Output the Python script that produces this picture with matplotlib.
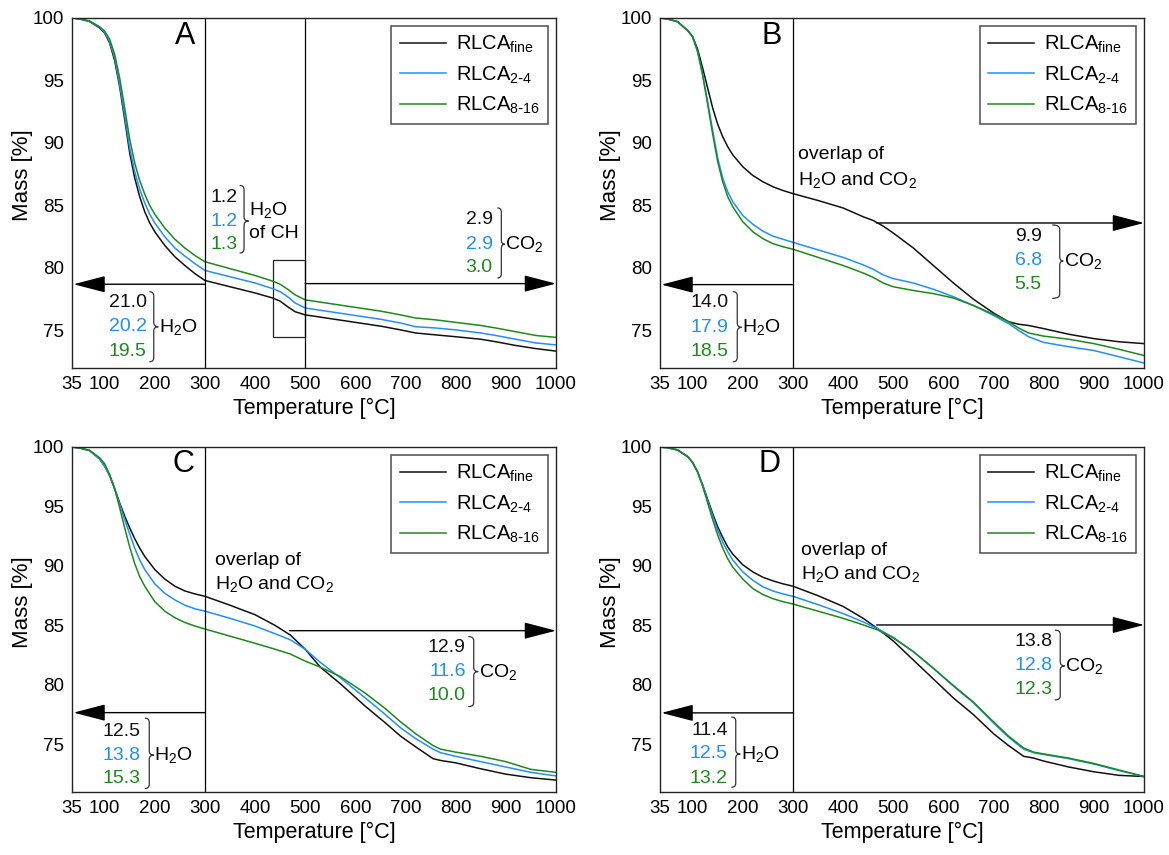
"""TGA mass-loss curves of RLCA fractions (panels A-D)."""

import matplotlib

matplotlib.use("Agg")
import matplotlib.pyplot as plt
from matplotlib.patches import FancyArrowPatch, PathPatch, Rectangle
from matplotlib.path import Path

plt.rcParams["font.family"] = ["Liberation Sans", "DejaVu Sans"]
plt.rcParams["mathtext.default"] = "regular"

# --- data ---------------------------------------------------------------
temp_a = [35, 50, 70, 90, 100, 110, 120, 130, 140, 150, 160, 170, 180, 190, 200,
          220, 240, 260, 280, 300, 350, 400, 435, 450, 465, 480, 500, 550, 600,
          650, 690, 720, 760, 800, 850, 880, 920, 960, 1000]
fine_a = [100, 99.92, 99.72, 99.2, 98.8, 98.0, 96.6, 94.5, 91.9, 89.2, 87.2, 85.7,
          84.5, 83.6, 82.9, 81.8, 80.9, 80.2, 79.55, 79.0, 78.5, 78.0, 77.6, 77.35,
          76.9, 76.5, 76.25, 75.95, 75.65, 75.35, 75.05, 74.8, 74.65, 74.5, 74.3,
          74.1, 73.8, 73.55, 73.35]
c24_a = [100, 99.92, 99.72, 99.25, 98.85, 98.1, 96.8, 94.7, 92.2, 89.6, 87.7, 86.3,
         85.2, 84.3, 83.6, 82.5, 81.6, 80.95, 80.35, 79.8, 79.3, 78.8, 78.35, 78.1,
         77.7, 77.2, 76.8, 76.5, 76.2, 75.9, 75.6, 75.3, 75.2, 75.05, 74.8, 74.6,
         74.3, 74.0, 73.85]
c816_a = [100, 99.94, 99.76, 99.3, 98.95, 98.3, 97.1, 95.2, 92.8, 90.3, 88.4, 87.0,
          85.9, 85.0, 84.3, 83.2, 82.3, 81.6, 81.0, 80.5, 79.95, 79.4, 78.95, 78.7,
          78.3, 77.85, 77.45, 77.15, 76.85, 76.55, 76.25, 76.0, 75.85, 75.65, 75.4,
          75.2, 74.9, 74.6, 74.45]

temp_b = [35, 50, 70, 90, 100, 110, 120, 130, 140, 150, 160, 170, 180, 200, 220,
          240, 260, 280, 300, 350, 400, 440, 460, 480, 500, 540, 580, 620, 660,
          700, 730, 750, 770, 800, 850, 900, 950, 1000]
fine_b = [100, 99.92, 99.7, 99.0, 98.5, 97.5, 96.0, 94.4, 92.8, 91.5, 90.5, 89.7,
          89.05, 88.1, 87.4, 86.9, 86.5, 86.2, 85.95, 85.4, 84.8, 84.1, 83.8, 83.35,
          82.8, 81.6, 80.2, 78.8, 77.5, 76.4, 75.7, 75.5, 75.4, 75.15, 74.7, 74.35,
          74.1, 73.95]
c24_b = [100, 99.92, 99.7, 99.0, 98.5, 97.3, 95.5, 93.3, 91.0, 88.8, 87.2, 86.1,
         85.3, 84.2, 83.5, 82.95, 82.55, 82.3, 82.05, 81.45, 80.85, 80.25, 79.9,
         79.45, 79.15, 78.8, 78.3, 77.7, 77.0, 76.2, 75.55, 75.0, 74.5, 74.05, 73.7,
         73.4, 72.9, 72.4]
c816_b = [100, 99.92, 99.7, 99.0, 98.5, 97.3, 95.4, 93.1, 90.7, 88.5, 86.9, 85.7,
          84.9, 83.7, 82.9, 82.35, 81.95, 81.7, 81.5, 80.85, 80.2, 79.6, 79.25, 78.8,
          78.5, 78.2, 77.95, 77.6, 77.0, 76.3, 75.7, 75.2, 74.8, 74.55, 74.3, 73.95,
          73.5, 73.0]

temp_c = [35, 50, 70, 90, 100, 110, 120, 130, 140, 150, 160, 170, 180, 200, 220,
          240, 260, 280, 300, 350, 400, 440, 470, 500, 530, 570, 620, 660, 690, 720,
          755, 770, 800, 850, 900, 950, 1000]
fine_c = [100, 99.92, 99.7, 99.0, 98.4, 97.6, 96.5, 95.3, 94.2, 93.2, 92.3, 91.5,
          90.8, 89.7, 88.9, 88.3, 87.9, 87.65, 87.45, 86.7, 85.9, 85.0, 84.2, 83.0,
          81.5, 80.1, 78.2, 76.8, 75.7, 74.8, 73.8, 73.65, 73.45, 72.95, 72.5, 72.2,
          72.0]
c24_c = [100, 99.92, 99.7, 99.0, 98.4, 97.6, 96.5, 95.2, 93.9, 92.7, 91.5, 90.5,
         89.7, 88.5, 87.7, 87.15, 86.7, 86.4, 86.2, 85.6, 84.95, 84.3, 83.8, 83.0,
         81.9, 80.6, 78.9, 77.5, 76.4, 75.5, 74.6, 74.3, 74.0, 73.55, 73.1, 72.65,
         72.35]
c816_c = [100, 99.92, 99.72, 99.1, 98.6, 97.7, 96.5, 94.9, 93.2, 91.6, 90.2, 89.1,
          88.3, 87.0, 86.2, 85.65, 85.25, 84.95, 84.7, 84.1, 83.5, 83.0, 82.6, 82.0,
          81.5, 80.7, 79.3, 78.0, 76.9, 75.9, 74.9, 74.6, 74.35, 74.0, 73.55, 72.9,
          72.65]

temp_d = [35, 50, 70, 90, 100, 110, 120, 130, 140, 150, 160, 170, 180, 200, 220,
          240, 260, 280, 300, 350, 400, 440, 470, 500, 540, 580, 620, 660, 700, 730,
          760, 780, 800, 850, 900, 950, 1000]
fine_d = [100, 99.94, 99.75, 99.2, 98.7, 97.9, 96.8, 95.6, 94.4, 93.3, 92.4, 91.6,
          91.0, 90.1, 89.5, 89.05, 88.75, 88.5, 88.3, 87.5, 86.6, 85.6, 84.7, 83.7,
          82.1, 80.5, 78.9, 77.5, 75.9, 74.9, 74.0, 73.85, 73.6, 73.1, 72.7, 72.4,
          72.3]
c24_d = [100, 99.94, 99.75, 99.2, 98.7, 97.9, 96.8, 95.5, 94.2, 93.0, 92.0, 91.2,
         90.5, 89.5, 88.8, 88.25, 87.9, 87.65, 87.45, 86.75, 86.0, 85.3, 84.7, 84.0,
         82.8, 81.4, 79.9, 78.5, 76.8, 75.6, 74.6, 74.3, 74.15, 73.8, 73.35, 72.8,
         72.3]
c816_d = [100, 99.94, 99.75, 99.2, 98.7, 97.9, 96.7, 95.3, 93.9, 92.6, 91.5, 90.6,
          89.9, 88.9, 88.1, 87.6, 87.25, 87.0, 86.8, 86.2, 85.6, 85.05, 84.6, 83.95,
          82.8, 81.4, 79.95, 78.55, 76.9, 75.7, 74.7, 74.35, 74.2, 73.85, 73.4, 72.85,
          72.3]

series_names = [r"RLCA$_{fine}$", r"RLCA$_{2\text{-}4}$", r"RLCA$_{8\text{-}16}$"]

h2o_a = ["21.0", "20.2", "19.5"]
ch_a = ["1.2", "1.2", "1.3"]
co2_a = ["2.9", "2.9", "3.0"]
h2o_b = ["14.0", "17.9", "18.5"]
co2_b = ["9.9", "6.8", "5.5"]
h2o_c = ["12.5", "13.8", "15.3"]
co2_c = ["12.9", "11.6", "10.0"]
h2o_d = ["11.4", "12.5", "13.2"]
co2_d = ["13.8", "12.8", "12.3"]

x_ticks = [35, 100, 200, 300, 400, 500, 600, 700, 800, 900, 1000]
y_ticks = [75, 80, 85, 90, 95, 100]

COLORS = ["#111111", "#1f8fff", "#1b8a1b"]
TXT_COLORS = ["#111111", "#1f8fff", "#1b8a1b"]
FS = 14


def brace(ax, bx, y_top, y_bot, y_tip, hook=8, tip=9, curl=0.35):
    """Draw a '}' shaped brace in data coordinates."""
    verts = [
        (bx - hook, y_top), (bx, y_top), (bx, y_top - curl),
        (bx, y_tip + curl), (bx, y_tip), (bx + tip, y_tip),
        (bx, y_tip), (bx, y_tip - curl),
        (bx, y_bot + curl), (bx, y_bot), (bx - hook, y_bot),
    ]
    codes = [Path.MOVETO, Path.CURVE3, Path.CURVE3, Path.LINETO, Path.CURVE3,
             Path.CURVE3, Path.CURVE3, Path.CURVE3, Path.LINETO, Path.CURVE3,
             Path.CURVE3]
    ax.add_patch(PathPatch(Path(verts, codes), fill=False, lw=0.9,
                           edgecolor="#333333", capstyle="round"))


def value_group(ax, values, label, x_num, bx, rows, y_top, y_bot,
                hook=8, tip=9, x_label=None):
    for v, y, c in zip(values, rows, TXT_COLORS):
        ax.text(x_num, y, v, color=c, fontsize=FS, ha="right", va="center")
    brace(ax, bx, y_top, y_bot, rows[1], hook=hook, tip=tip)
    if x_label is None:
        x_label = bx + tip + 1
    ax.text(x_label, rows[1], label, fontsize=FS, ha="left", va="center",
            linespacing=1.4)


def arrow(ax, x0, x1, y):
    ax.add_patch(FancyArrowPatch(
        (x0, y), (x1, y), arrowstyle="-|>,head_length=1.0,head_width=0.26",
        mutation_scale=20, lw=1.0, color="black", shrinkA=0, shrinkB=0))


def base_panel(ax, temp, curves, letter, ylim, letter_x):
    for ys, c, name in zip(curves, COLORS, series_names):
        ax.plot(temp, ys, color=c, lw=1.1, label=name)
    ax.set_xlim(35, 1000)
    ax.set_ylim(*ylim)
    ax.set_xticks(x_ticks)
    ax.set_yticks(y_ticks)
    ax.tick_params(length=0, pad=6, labelsize=13.5)
    for s in ax.spines.values():
        s.set_linewidth(1.0)
        s.set_color("#222222")
    ax.set_xlabel("Temperature [°C]", fontsize=15.5, labelpad=3)
    ax.set_ylabel("Mass [%]", fontsize=16, labelpad=0)
    ax.yaxis.set_label_coords(-0.08, 0.55)
    ax.text(letter_x, 98.55, letter, fontsize=22, ha="center", va="center")
    ax.axvline(300, color="black", lw=0.9)
    leg = ax.legend(loc="upper right", fontsize=14.5, frameon=True, fancybox=False,
                    handlelength=2.3, handletextpad=0.5, labelspacing=0.45,
                    borderpad=0.4, borderaxespad=0.4)
    leg.get_frame().set_edgecolor("#222222")
    leg.get_frame().set_linewidth(1.1)


fig = plt.figure(figsize=(11.69, 8.55), dpi=100)
ax_a = fig.add_axes([0.0616, 0.5696, 0.414, 0.4094])
ax_b = fig.add_axes([0.5646, 0.5696, 0.414, 0.4094])
ax_c = fig.add_axes([0.0616, 0.0737, 0.414, 0.4035])
ax_d = fig.add_axes([0.5646, 0.0737, 0.414, 0.4035])

# --- A ---
base_panel(ax_a, temp_a, [fine_a, c24_a, c816_a], "A", (72, 100), 261)
ax_a.axvline(500, color="black", lw=0.9)
ax_a.add_patch(Rectangle((435, 74.45), 65, 6.2, fill=False, lw=0.9,
                         edgecolor="#222222"))
arrow(ax_a, 300, 38, 78.7)
arrow(ax_a, 500, 1000, 78.75)
value_group(ax_a, h2o_a, "H$_2$O", 184, 198, [77.2, 75.3, 73.35], 78.1, 72.5)
value_group(ax_a, ch_a, "H$_2$O\nof CH", 366, 378, [85.6, 83.75, 81.85],
            86.6, 81.2)
value_group(ax_a, co2_a, "CO$_2$", 874, 891, [83.85, 81.9, 80.0], 84.8, 79.2,
            hook=7, tip=7)

# --- B ---
base_panel(ax_b, temp_b, [fine_b, c24_b, c816_b], "B", (72, 100), 258)
arrow(ax_b, 300, 38, 78.67)
arrow(ax_b, 467, 1000, 83.6)
value_group(ax_b, h2o_b, "H$_2$O", 172, 189, [77.2, 75.25, 73.33], 78.1, 72.5)
value_group(ax_b, co2_b, "CO$_2$", 796, 832, [82.5, 80.56, 78.64], 83.44, 77.57,
            hook=14, tip=7)
ax_b.text(311, 89.1, "overlap of", fontsize=FS, ha="left", va="center")
ax_b.text(311, 87.05, "H$_2$O and CO$_2$", fontsize=FS, ha="left", va="center")

# --- C ---
base_panel(ax_c, temp_c, [fine_c, c24_c, c816_c], "C", (71, 100), 258)
arrow(ax_c, 300, 38, 77.67)
arrow(ax_c, 469, 1000, 84.56)
value_group(ax_c, h2o_c, "H$_2$O", 172, 189, [76.05, 74.1, 72.13], 77.2, 71.3)
value_group(ax_c, co2_c, "CO$_2$", 820, 836, [83.17, 81.12, 79.08], 84.06, 78.18,
            hook=10, tip=9)
ax_c.text(321, 90.5, "overlap of", fontsize=FS, ha="left", va="center")
ax_c.text(321, 88.45, "H$_2$O and CO$_2$", fontsize=FS, ha="left", va="center")

# --- D ---
base_panel(ax_d, temp_d, [fine_d, c24_d, c816_d], "D", (71, 100), 254)
arrow(ax_d, 300, 38, 77.65)
arrow(ax_d, 467, 1000, 85.04)
value_group(ax_d, h2o_d, "H$_2$O", 170, 186, [76.2, 74.2, 72.13], 77.3, 71.4)
value_group(ax_d, co2_d, "CO$_2$", 817, 833, [83.64, 81.6, 79.58], 84.6, 78.74,
            hook=10, tip=9)
ax_d.text(317, 91.3, "overlap of", fontsize=FS, ha="left", va="center")
ax_d.text(317, 89.3, "H$_2$O and CO$_2$", fontsize=FS, ha="left", va="center")

fig.savefig("out.png", dpi=100)
plt.close(fig)
